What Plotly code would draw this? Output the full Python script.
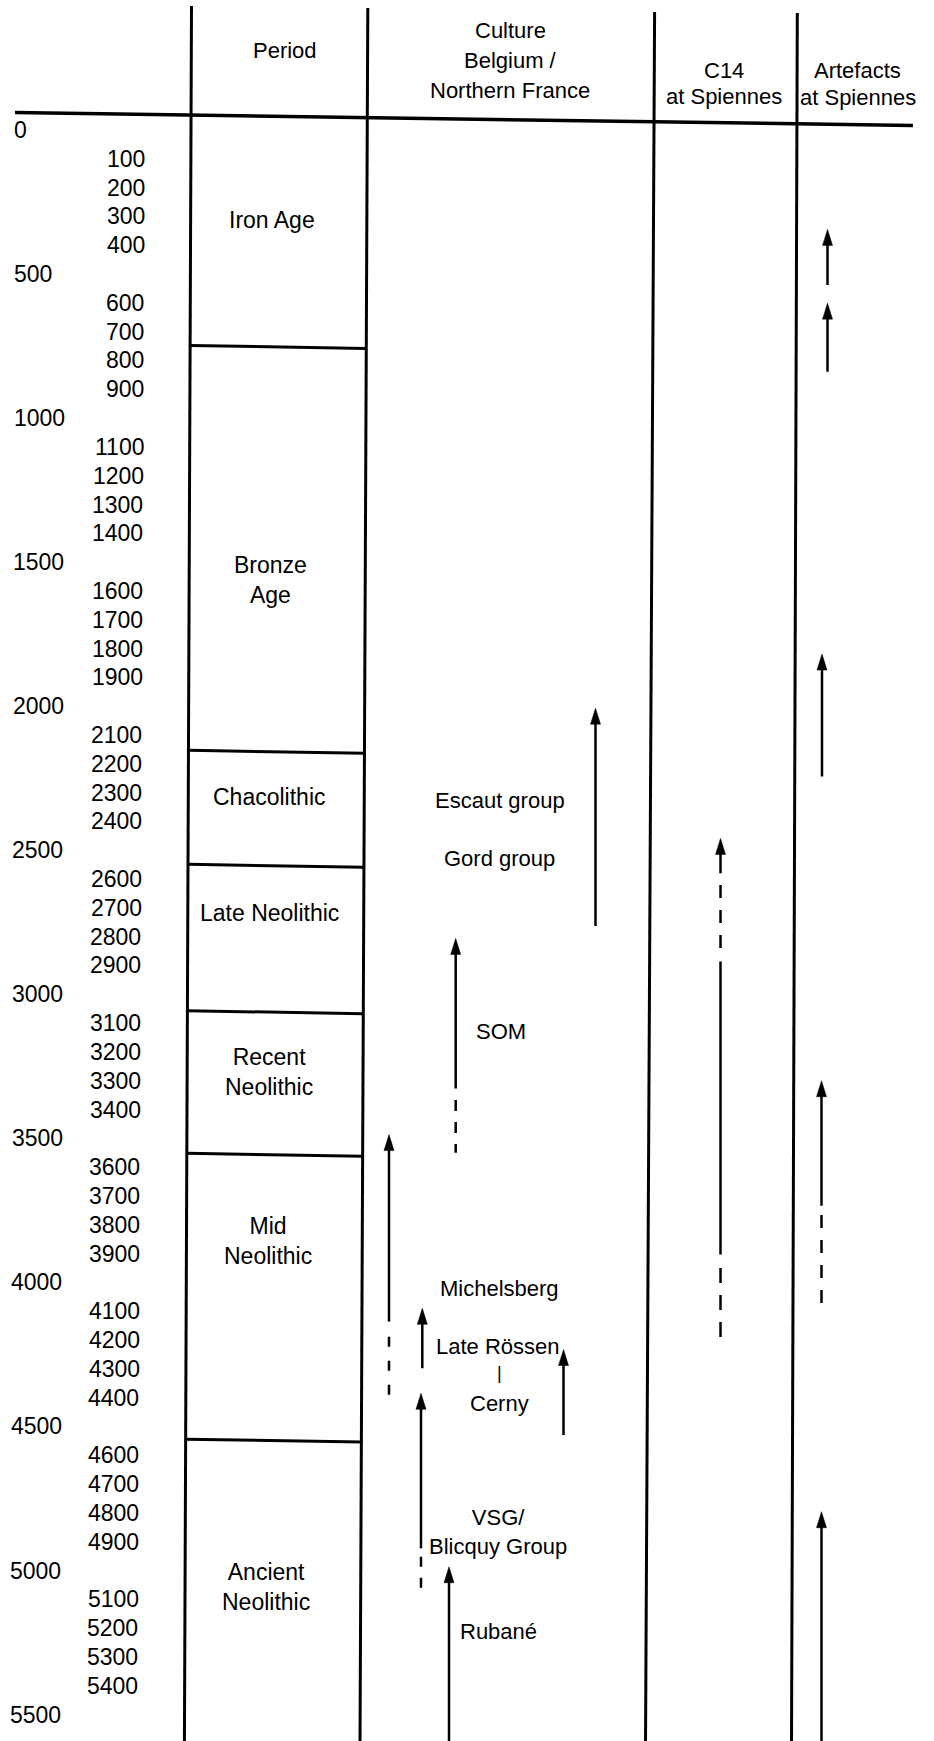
import plotly.graph_objects as go

# ---------------- data (years BC) ----------------
major_tick_years = [0, 500, 1000, 1500, 2000, 2500, 3000, 3500, 4000, 4500, 5000, 5500]
minor_tick_years = [100, 200, 300, 400, 600, 700, 800, 900,
                    1100, 1200, 1300, 1400, 1600, 1700, 1800, 1900,
                    2100, 2200, 2300, 2400, 2600, 2700, 2800, 2900,
                    3100, 3200, 3300, 3400, 3600, 3700, 3800, 3900,
                    4100, 4200, 4300, 4400, 4600, 4700, 4800, 4900,
                    5100, 5200, 5300, 5400]

header_labels = ["Period", "Culture", "Belgium /", "Northern France",
                 "C14", "at Spiennes", "Artefacts", "at Spiennes"]

period_names = ["Iron Age", "Bronze<br>Age", "Chacolithic", "Late Neolithic",
                "Recent<br>Neolithic", "Mid<br>Neolithic", "Ancient<br>Neolithic"]
period_boundaries = [748, 2153, 2549, 3057, 3552, 4544]

culture_labels = ["Escaut group", "Gord group", "SOM", "Michelsberg",
                  "Late Rössen", "|", "Cerny", "VSG/<br>Blicquy Group", "Rubané"]

# culture arrows: arrow tip, end of solid shaft, dashed continuation
culture_arrow_top = [2007, 2806, 3487, 4090, 4233, 4385, 4987]
culture_arrow_solid_end = [2763, 3327, 4136, 4298, 4530, 4923, 5610]
culture_arrow_dash_start = [None, 3367, 4189, None, None, 4952, None]
culture_arrow_dash_end = [None, 3550, 4391, None, None, 5061, None]

# C14 at Spiennes
c14_top = 2459
c14_solid = [[2459, 2580], [2886, 3903]]
c14_dashed = [[2621, 2839], [3950, 4190]]

# Artefacts at Spiennes
artefact_top = [345, 601, 1819, 3300, 4796]
artefact_solid_end = [538, 839, 2244, 3734, 5610]
artefact_dash_start = [None, None, None, 3766, None]
artefact_dash_end = [None, None, None, 4084, None]

# ---------------- geometry / styles (pixels) ----------------
W, H = 934, 1741
PX_PER_YEAR = 0.2881
Y0 = 130.0
FONT = "Liberation Sans, Arial, sans-serif"


def yr(p):
    return (p - Y0) / PX_PER_YEAR


def ypx(y):
    return Y0 + y * PX_PER_YEAR


# column rule lines: (x at top, y top, x at bottom)
COLS = [(191.5, 6, 184.4), (367.8, 8, 360.0), (654.6, 12, 645.5), (797.3, 13, 791.5)]


def col_x(i, p):
    tx, ty, bx = COLS[i]
    return tx + (bx - tx) * (p - ty) / (H - ty)


header_pos = [(284.5, 50), (510, 30), (510, 60), (510, 90),
              (724, 70.5), (724, 96.5), (857.5, 70.5), (858, 97.5)]
period_label_pos = [(272, 220), (270.7, 580.3), (269.5, 797.3), (269.5, 912.7),
                    (268.8, 1071.7), (267.7, 1241.2), (266, 1587.2)]
period_label_size = 23
culture_label_pos = [(499.7, 800.7), (499.7, 858.3), (500.7, 1031), (499.3, 1288.3),
                     (498.3, 1346), (499.3, 1373), (499.3, 1403.3), (497.5, 1531.7),
                     (498.3, 1631.7)]
culture_label_size = [22, 22, 22, 22, 22, 18, 22, 22, 22]
culture_arrow_x = [595.5, 455.7, 389, 422.3, 563.5, 421, 449]
culture_dash_pat = [None, "11px,11px", "10px,14px", None, None, "10px,11px", None]
c14_x = 720.5
c14_dash_pat = ["13px,12px", "15px,12px"]
artefact_x = [827.5, 827.5, 822, 821.5, 821.5]
artefact_dash_pat = [None, None, None, "13px,12px", None]

HEAD_LEN = 16
HEAD_HALF = 5
SHAFT_W = 2.5

fig = go.Figure()
shapes = []
annotations = []


def seg(x0, y0, x1, y1, width, dash="solid"):
    shapes.append(dict(type="line", xref="x", yref="y", x0=x0, y0=y0, x1=x1, y1=y1,
                       line=dict(color="black", width=width, dash=dash)))


def text(x, p, s, size=22, xanchor="center"):
    annotations.append(dict(x=x, y=yr(p), xref="x", yref="y", text=s, showarrow=False,
                            font=dict(family=FONT, size=size, color="black"),
                            xanchor=xanchor, yanchor="middle", borderpad=0, borderwidth=0))


def head(x, top):
    p = ypx(top)
    fig.add_trace(go.Scatter(
        x=[x, x - HEAD_HALF, x + HEAD_HALF, x],
        y=[top, yr(p + HEAD_LEN), yr(p + HEAD_LEN), top],
        mode="lines", fill="toself", fillcolor="black",
        line=dict(color="black", width=0.5), hoverinfo="skip", showlegend=False))


def arrow(x, top, solid_end, dash_start=None, dash_end=None, pat=None):
    head(x, top)
    seg(x, yr(ypx(top) + HEAD_LEN - 3), x, solid_end, SHAFT_W)
    if dash_start is not None:
        seg(x, dash_start, x, dash_end, SHAFT_W, pat)


# column rules
for tx, ty, bx in COLS:
    seg(tx, yr(ty), bx, yr(H + 5), 3)

# header rule
seg(15, yr(112.5), 913, yr(125.5), 3.5)

# period boundaries
for b in period_boundaries:
    pl = ypx(b)
    xl = col_x(0, pl)
    xr = col_x(1, pl)
    seg(xl, b, xr, yr(pl + 0.017 * (xr - xl)), 3)

# tick labels
for y in major_tick_years:
    p = ypx(y)
    text(14.5 - 0.0028 * (p - 125), p, str(y), size=23, xanchor="left")
for y in minor_tick_years:
    p = ypx(y)
    text(145 - 0.0045 * (p - 155), p, str(y), size=23, xanchor="right")

# header texts
for s, (x, p) in zip(header_labels, header_pos):
    text(x, p, s)

# period names
for s, (x, p) in zip(period_names, period_label_pos):
    text(x, p, s, size=period_label_size)

# culture names
for s, (x, p), sz in zip(culture_labels, culture_label_pos, culture_label_size):
    text(x, p, s, size=sz)

# culture arrows
for i in range(len(culture_arrow_top)):
    arrow(culture_arrow_x[i], culture_arrow_top[i], culture_arrow_solid_end[i],
          culture_arrow_dash_start[i], culture_arrow_dash_end[i], culture_dash_pat[i])

# C14 arrow
head(c14_x, c14_top)
for k, (a, b) in enumerate(c14_solid):
    a0 = yr(ypx(a) + HEAD_LEN - 3) if k == 0 else a
    seg(c14_x, a0, c14_x, b, SHAFT_W)
for (a, b), pat in zip(c14_dashed, c14_dash_pat):
    seg(c14_x, a, c14_x, b, SHAFT_W, pat)

# artefact arrows
for i in range(len(artefact_top)):
    arrow(artefact_x[i], artefact_top[i], artefact_solid_end[i],
          artefact_dash_start[i], artefact_dash_end[i], artefact_dash_pat[i])

fig.update_layout(
    width=W, height=H,
    margin=dict(l=0, r=0, t=0, b=0, pad=0),
    paper_bgcolor="white", plot_bgcolor="white",
    showlegend=False,
    xaxis=dict(range=[0, W], visible=False, fixedrange=True),
    yaxis=dict(range=[yr(H), yr(0)], visible=False, fixedrange=True),
    shapes=shapes,
    annotations=annotations,
)

fig.write_html("out.html",
               config={"displayModeBar": False},
               post_script="document.body.style.margin='0';document.body.style.overflow='hidden';")
